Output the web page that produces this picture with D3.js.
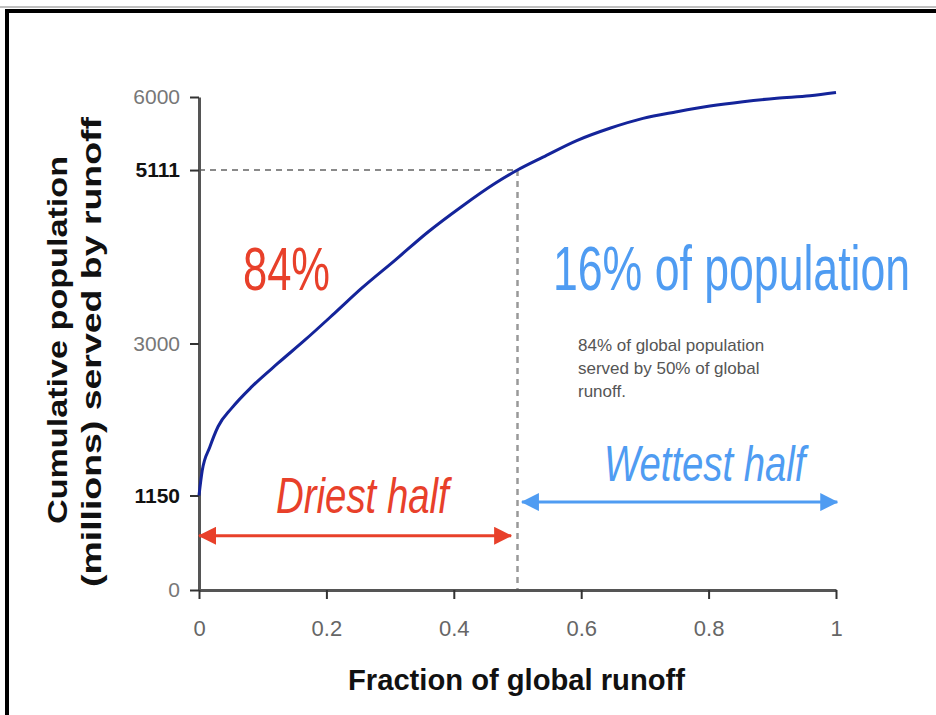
<!DOCTYPE html>
<html>
<head>
<meta charset="utf-8">
<script src="https://cdn.jsdelivr.net/npm/d3@7"></script>
<style>
  body { margin: 0; background: #fff; }
  svg { display: block; }
</style>
</head>
<body>
<div id="chart"></div>
<script>
(function() {
  "use strict";

  // values
  var runoffFraction = [0, 0.005, 0.017, 0.030, 0.051, 0.083, 0.124, 0.166, 0.213, 0.255, 0.308, 0.360, 0.412, 0.465, 0.5,
                        0.540, 0.593, 0.645, 0.697, 0.750, 0.802, 0.854, 0.907, 0.959, 1.0];
  var cumPopulation  = [1150, 1450, 1740, 1990, 2210, 2475, 2760, 3040, 3370, 3670, 4015, 4360, 4665, 4950, 5111,
                        5268, 5470, 5620, 5740, 5820, 5890, 5943, 5985, 6015, 6055];
  var yTicks = [0, 1150, 3000, 5111, 6000];
  var yStrong = [1150, 5111];
  var xTicks = [0, 0.2, 0.4, 0.6, 0.8, 1];
  var halfMark = 0.5;
  var halfPop = 5111;

  var w = 936, h = 715;
  var font = "'Liberation Sans', Arial, sans-serif";
  var red = "#e8402a", blue = "#4f9cf2";

  var data = runoffFraction.map(function(d, i) { return { x: d, y: cumPopulation[i] }; });

  var x = d3.scaleLinear().domain([0, 1]).range([199, 836]);
  var y = d3.scaleLinear().domain([0, 6000]).range([590, 97]);

  var svg = d3.select("#chart").append("svg")
    .attr("width", w)
    .attr("height", h)
    .style("font-family", font);

  // frame
  svg.append("line").attr("x1", 0).attr("x2", w).attr("y1", 7).attr("y2", 7)
    .attr("stroke", "#aaa").attr("stroke-width", 1.5);
  svg.append("rect")
    .attr("x", 7).attr("y", 11).attr("width", w + 20).attr("height", h + 20)
    .attr("fill", "none").attr("stroke", "#000").attr("stroke-width", 4);

  // arrow heads
  var defs = svg.append("defs");
  [["red", red], ["blue", blue]].forEach(function(m) {
    defs.append("marker")
      .attr("id", "head-" + m[0])
      .attr("markerUnits", "userSpaceOnUse")
      .attr("viewBox", "0 0 18 18")
      .attr("refX", 17).attr("refY", 9)
      .attr("markerWidth", 18).attr("markerHeight", 18)
      .attr("orient", "auto-start-reverse")
      .append("path")
      .attr("d", "M0,0L18,9L0,18Z")
      .attr("fill", m[1]);
  });

  // dashed guide lines at the 50% point
  svg.append("line")
    .attr("x1", x(0)).attr("x2", x(halfMark))
    .attr("y1", y(halfPop)).attr("y2", y(halfPop))
    .attr("stroke", "#8a8a8a").attr("stroke-width", 2).attr("stroke-dasharray", "6,5");
  svg.append("line")
    .attr("x1", x(halfMark)).attr("x2", x(halfMark))
    .attr("y1", y(halfPop)).attr("y2", y(0))
    .attr("stroke", "#999").attr("stroke-width", 2.5).attr("stroke-dasharray", "6,5");

  // axes
  var yAxis = svg.append("g")
    .attr("transform", "translate(" + x(0) + ",0)")
    .call(d3.axisLeft(y).tickValues(yTicks).tickSize(9).tickSizeOuter(0).tickPadding(10)
      .tickFormat(function(d) { return String(d); }));
  yAxis.selectAll("text")
    .style("font-size", "21px")
    .style("font-family", font)
    .attr("fill", function(d) { return yStrong.indexOf(d) >= 0 ? "#111" : "#777"; })
    .style("font-weight", function(d) { return yStrong.indexOf(d) >= 0 ? "bold" : "normal"; });

  var xAxis = svg.append("g")
    .attr("transform", "translate(0," + y(0) + ")")
    .call(d3.axisBottom(x).tickValues(xTicks).tickSize(9).tickSizeOuter(0).tickPadding(21)
      .tickFormat(function(d) { return String(d); }));
  xAxis.selectAll("text")
    .style("font-size", "22px")
    .style("font-family", font)
    .attr("fill", "#666");

  svg.selectAll(".domain").attr("stroke", "#555").attr("stroke-width", 3);
  svg.selectAll(".tick line").attr("stroke", "#333").attr("stroke-width", 2);

  // curve
  var line = d3.line()
    .x(function(d) { return x(d.x); })
    .y(function(d) { return y(d.y); })
    .curve(d3.curveMonotoneX);

  svg.append("path")
    .datum(data)
    .attr("d", line)
    .attr("fill", "none")
    .attr("stroke", "#14249a")
    .attr("stroke-width", 3);

  // arrows
  svg.append("line")
    .attr("x1", x(0)).attr("x2", x(0.49))
    .attr("y1", y(660)).attr("y2", y(660))
    .attr("stroke", red).attr("stroke-width", 3)
    .attr("marker-start", "url(#head-red)")
    .attr("marker-end", "url(#head-red)");
  svg.append("line")
    .attr("x1", x(0.507)).attr("x2", x(1.002))
    .attr("y1", y(1070)).attr("y2", y(1070))
    .attr("stroke", blue).attr("stroke-width", 3)
    .attr("marker-start", "url(#head-blue)")
    .attr("marker-end", "url(#head-blue)");

  // labels (narrow font is faked by stretching a smaller size vertically)
  function tall(txt, px, py, size, sy, color, italic) {
    svg.append("text").text(txt)
      .attr("transform", "translate(" + px + "," + py + ") scale(1," + sy + ")")
      .style("font-size", size + "px")
      .style("font-style", italic ? "italic" : "normal")
      .attr("fill", color);
  }
  tall("84%", 243, 290, 43.5, 1.42, red, false);
  tall("16% of population", 553, 290, 44.6, 1.39, blue, false);
  tall("Driest half", 276, 513, 38.4, 1.3, red, true);
  tall("Wettest half", 604, 481, 38.3, 1.3, blue, true);

  var note = ["84% of global population", "served by 50% of global", "runoff."];
  svg.append("g").selectAll("text")
    .data(note)
    .enter()
    .append("text")
    .text(function(d) { return d; })
    .attr("x", 578)
    .attr("y", function(d, i) { return 351 + i * 23; })
    .style("font-size", "17px")
    .attr("fill", "#555");

  // axis titles
  svg.append("text").text("Fraction of global runoff")
    .attr("x", 348).attr("y", 690)
    .attr("textLength", 337).attr("lengthAdjust", "spacingAndGlyphs")
    .style("font-size", "29px").style("font-weight", "bold").attr("fill", "#111");

  svg.append("text").text("Cumulative population")
    .attr("transform", "translate(67,340) rotate(-90)")
    .attr("text-anchor", "middle")
    .attr("textLength", 368).attr("lengthAdjust", "spacingAndGlyphs")
    .style("font-size", "28px").style("font-weight", "bold").attr("fill", "#111");

  svg.append("text").text("(millions) served by runoff")
    .attr("transform", "translate(101,352) rotate(-90)")
    .attr("text-anchor", "middle")
    .attr("textLength", 470).attr("lengthAdjust", "spacingAndGlyphs")
    .style("font-size", "28px").style("font-weight", "bold").attr("fill", "#111");

})();
</script>
</body>
</html>
